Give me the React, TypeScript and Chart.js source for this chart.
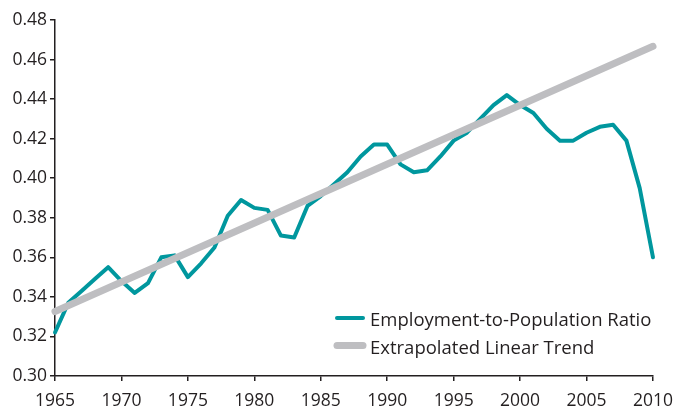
import React, { useEffect, useRef } from "react";
import { Chart, registerables } from "chart.js";

Chart.register(...registerables);

const years = [
  1965, 1966, 1967, 1968, 1969, 1970, 1971, 1972, 1973, 1974,
  1975, 1976, 1977, 1978, 1979, 1980, 1981, 1982, 1983, 1984,
  1985, 1986, 1987, 1988, 1989, 1990, 1991, 1992, 1993, 1994,
  1995, 1996, 1997, 1998, 1999, 2000, 2001, 2002, 2003, 2004,
  2005, 2006, 2007, 2008, 2009, 2010,
];

const employmentRatio = [
  0.322, 0.337, 0.343, 0.349, 0.355, 0.348, 0.342, 0.347, 0.360, 0.361,
  0.350, 0.357, 0.365, 0.381, 0.389, 0.385, 0.384, 0.371, 0.370, 0.386,
  0.391, 0.397, 0.403, 0.411, 0.417, 0.417, 0.407, 0.403, 0.404, 0.411,
  0.419, 0.423, 0.430, 0.437, 0.442, 0.437, 0.433, 0.425, 0.419, 0.419,
  0.423, 0.426, 0.427, 0.419, 0.395, 0.360,
];

const trendYears = [1965, 2010];
const trendValues = [0.3326, 0.4667];

const seriesLabels = ["Employment-to-Population Ratio", "Extrapolated Linear Trend"];

const xMin = 1965;
const xMax = 2010;
const xStep = 5;
const yMin = 0.3;
const yMax = 0.48;
const yStep = 0.02;

const TEAL = "#00979e";
const GRAY = "#bebec1";
const INK = "#231f20";
const FONT = "'Open Sans', sans-serif";

const legendPlugin = {
  id: "insideLegend",
  afterDraw(chart: any) {
    const ctx = chart.ctx;
    const area = chart.chartArea;
    const x0 = area.left + 282;
    const y0 = area.bottom - 58;
    const rowGap = 27.5;
    ctx.save();
    chart.data.datasets.forEach((ds: any, i: number) => {
      const y = y0 + i * rowGap;
      ctx.beginPath();
      ctx.lineCap = "round";
      ctx.strokeStyle = ds.borderColor;
      ctx.lineWidth = ds.borderWidth;
      ctx.moveTo(x0, y);
      ctx.lineTo(x0 + 26, y);
      ctx.stroke();
      ctx.fillStyle = INK;
      ctx.font = `18.5px ${FONT}`;
      ctx.textBaseline = "alphabetic";
      ctx.textAlign = "left";
      ctx.fillText(ds.label, x0 + 33, y + 8);
    });
    ctx.restore();
  },
};

export default function App() {
  const canvasRef = useRef<HTMLCanvasElement | null>(null);

  useEffect(() => {
    const canvas = canvasRef.current;
    if (!canvas) return;
    const chart = new Chart(canvas, {
      type: "line",
      data: {
        datasets: [
          {
            label: seriesLabels[0],
            data: years.map((yr, i) => ({ x: yr, y: employmentRatio[i] })),
            borderColor: TEAL,
            backgroundColor: TEAL,
            borderWidth: 4,
            pointRadius: 0,
            borderJoinStyle: "round",
            borderCapStyle: "round",
            tension: 0,
            order: 2,
            clip: false,
          },
          {
            label: seriesLabels[1],
            data: trendYears.map((yr, i) => ({ x: yr, y: trendValues[i] })),
            borderColor: GRAY,
            backgroundColor: GRAY,
            borderWidth: 7,
            pointRadius: 0,
            borderCapStyle: "round",
            tension: 0,
            order: 1,
            clip: false,
          },
        ],
      },
      options: {
        responsive: false,
        animation: false,
        layout: { padding: { top: 20, right: 25, left: 0, bottom: 0 } },
        plugins: {
          legend: { display: false },
          tooltip: { enabled: false },
        },
        scales: {
          x: {
            type: "linear",
            min: xMin,
            max: xMax,
            ticks: {
              stepSize: xStep,
              color: INK,
              font: { family: FONT, size: 17.5, lineHeight: 1.7 },
              padding: 5,
              maxRotation: 0,
              minRotation: 0,
              autoSkip: false,
              callback: (v: any) => String(v),
            },
            grid: {
              display: true,
              drawOnChartArea: false,
              drawTicks: true,
              tickLength: 5,
              color: INK,
              lineWidth: 1.5,
            },
            border: { display: true, color: INK, width: 1.5 },
            afterFit: (scale: any) => {
              scale.height = 30;
            },
          },
          y: {
            type: "linear",
            min: yMin,
            max: yMax,
            ticks: {
              stepSize: yStep,
              color: INK,
              font: { family: FONT, size: 17.5 },
              padding: 3,
              callback: (v: any) => Number(v).toFixed(2),
            },
            grid: {
              display: true,
              drawOnChartArea: false,
              drawTicks: true,
              tickLength: 5,
              color: INK,
              lineWidth: 1.5,
            },
            border: { display: true, color: INK, width: 1.5 },
            afterFit: (scale: any) => {
              scale.width = 55;
            },
          },
        },
      },
      plugins: [legendPlugin],
    } as any);
    return () => chart.destroy();
  }, []);

  return (
    <div style={{ position: "absolute", left: 0, top: 0, width: 678, height: 406, background: "#fff" }}>
      <canvas ref={canvasRef} width={678} height={406} />
    </div>
  );
}
